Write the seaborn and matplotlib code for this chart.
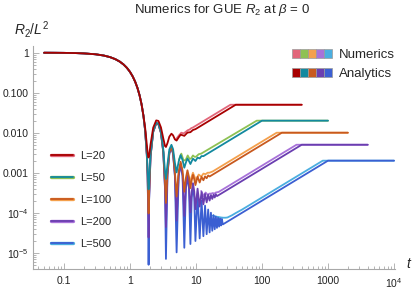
import numpy as np
import pandas as pd
import matplotlib
matplotlib.use("Agg")
import matplotlib.pyplot as plt
from matplotlib.lines import Line2D
from matplotlib.patches import Rectangle
from matplotlib.legend_handler import HandlerTuple
import seaborn as sns

# -------------------------
# Data
# -------------------------
L_values = ["L=20", "L=50", "L=100", "L=200", "L=500"]

# common early decay (all curves coincide)
t_head = [0.05, 0.07, 0.1, 0.15, 0.2, 0.3, 0.4, 0.5, 0.6, 0.7, 0.8, 0.9, 1.0,
          1.1, 1.2, 1.3, 1.4, 1.5, 1.6]
y_head = [0.9975, 0.995, 0.990, 0.978, 0.9604, 0.9133, 0.850, 0.7746, 0.6897,
          0.5993, 0.5075, 0.4175, 0.3326, 0.2555, 0.1879, 0.1312, 0.0856,
          0.0511, 0.0267]

# oscillation region, shared t positions
t_osc = [1.7, 1.8, 1.85, 1.9, 1.916, 1.95, 2.05, 2.25, 2.5, 2.7, 2.95, 3.2, 3.4,
         3.51, 3.7, 3.95, 4.25, 4.5, 4.8, 5.09, 5.47, 5.86, 6.27, 6.66, 7.04,
         7.43, 7.84, 8.24, 8.62, 9.01, 9.42, 9.81, 10.58, 11.38, 12.16, 12.95,
         13.73, 14.52, 15.3, 16.1, 16.85, 17.67, 18.45, 19.24, 20.0, 20.8, 21.6,
         22.4, 23.2, 23.95, 24.7, 25.5]

y_osc_20 = [1.32e-2, 5.07e-3, 3.16e-3, 2.42e-3, 2.40e-3, 2.63e-3,
            5.07e-3, 1.336e-2, 2.03e-2, 1.97e-2, 1.355e-2, 7.2e-3, 4.62e-3,
            4.39e-3, 5.48e-3, 7.96e-3, 9.44e-3, 8.6e-3, 6.79e-3, 6.36e-3,
            7.64e-3, 8.92e-3, 8.64e-3, 8.33e-3, 9.19e-3, 1.006e-2, 1.019e-2,
            1.03e-2, 1.1e-2, 1.17e-2, 1.2e-2, 1.226e-2]
y_osc_50 = [1.144e-2, 3.17e-3, 1.22e-3, 4.25e-4, 3.83e-4, 5.85e-4,
            2.92e-3, 1.1e-2, 1.767e-2, 1.69e-2, 1.045e-2, 3.84e-3, 1.05e-3,
            7.02e-4, 1.59e-3, 3.81e-3, 4.98e-3, 3.87e-3, 1.75e-3, 1.018e-3,
            1.89e-3, 2.76e-3, 2.05e-3, 1.332e-3, 1.8e-3, 2.26e-3, 1.96e-3,
            1.648e-3, 1.94e-3, 2.24e-3, 2.1e-3, 1.962e-3, 2.38e-3, 2.276e-3,
            2.61e-3, 2.59e-3]
y_osc_100 = [1.12e-2, 2.9e-3, 9.4e-4, 1.4e-4, 9.58e-5, 2.9e-4,
             2.61e-3, 1.066e-2, 1.73e-2, 1.65e-2, 1.0e-2, 3.36e-3, 5.4e-4,
             1.755e-4, 1.035e-3, 3.22e-3, 4.34e-3, 3.2e-3, 1.03e-3, 2.545e-4,
             1.07e-3, 1.88e-3, 1.11e-3, 3.33e-4, 7.4e-4, 1.15e-3, 7.8e-4,
             4.12e-4, 6.5e-4, 8.86e-4, 6.9e-4, 4.905e-4, 7.97e-4, 5.69e-4,
             7.85e-4, 6.475e-4, 8.1e-4, 7.26e-4, 8.54e-4, 8.05e-4]
y_osc_200 = [1.11e-2, 2.84e-3, 8.7e-4, 6.9e-5, 2.4e-5, 2.2e-4,
             2.54e-3, 1.058e-2, 1.72e-2, 1.64e-2, 9.9e-3, 3.24e-3, 4.13e-4,
             4.39e-5, 8.96e-4, 3.07e-3, 4.18e-3, 3.03e-3, 8.5e-4, 6.36e-5,
             8.68e-4, 1.66e-3, 8.78e-4, 8.33e-5, 4.78e-4, 8.68e-4, 4.88e-4,
             1.03e-4, 3.28e-4, 5.48e-4, 3.38e-4, 1.226e-4, 4.0e-4, 1.42e-4,
             3.29e-4, 1.62e-4, 2.95e-4, 1.815e-4, 2.8e-4, 2.01e-4, 2.76e-4,
             2.21e-4, 2.81e-4, 2.4e-4, 2.9e-4, 2.6e-4]
y_osc_500 = [1.11e-2, 2.83e-3, 8.5e-4, 4.9e-5, 5.0e-6, 1.99e-4,
             2.514e-3, 1.055e-2, 1.717e-2, 1.636e-2, 9.87e-3, 3.21e-3, 3.77e-4,
             7.0e-6, 8.57e-4, 3.03e-3, 4.14e-3, 2.98e-3, 8.0e-4, 1.02e-5,
             8.1e-4, 1.6e-3, 8.13e-4, 1.33e-5, 4.04e-4, 7.9e-4, 4.06e-4,
             1.65e-5, 2.37e-4, 4.53e-4, 2.39e-4, 1.96e-5, 2.89e-4, 2.28e-5,
             2.01e-4, 2.59e-5, 1.5e-4, 2.9e-5, 1.2e-4, 3.22e-5, 1.0e-4, 3.53e-5,
             8.7e-5, 3.85e-5, 8.0e-5, 4.16e-5, 7.5e-5, 4.48e-5, 7.1e-5, 4.79e-5,
             7.0e-5, 5.1e-5]

# ramp end / plateau (analytics)
plat_t_20, plat_y_20 = [40, 400], [0.05, 0.05]
plat_t_50, plat_y_50 = [100, 1000], [0.02, 0.02]
plat_t_100, plat_y_100 = [200, 2000], [0.01, 0.01]
plat_t_200, plat_y_200 = [400, 4000], [0.005, 0.005]
plat_t_500, plat_y_500 = [1000, 10000], [0.002, 0.002]

# numerics (visible where they separate from analytics)
num_t_20 = [5.0, 5.5, 6.0, 6.5, 7.0, 7.5, 8.0, 8.5, 9.0, 10, 33.3, 400]
num_y_20 = [6.9e-3, 8.5e-3, 1.0e-2, 9.6e-3, 1.05e-2, 1.15e-2, 1.2e-2, 1.3e-2,
            1.35e-2, 1.5e-2, 0.05, 0.05]
num_t_50 = [5.5, 6, 6.5, 7, 7.5, 8, 8.5, 9, 9.5, 10, 11, 12, 83.3, 1000]
num_y_50 = [2.1e-3, 3.0e-3, 2.0e-3, 2.1e-3, 2.7e-3, 2.2e-3, 2.3e-3, 2.7e-3,
            2.5e-3, 2.5e-3, 2.9e-3, 3.0e-3, 0.02, 0.02]
num_t_100 = [8, 9, 10, 11, 12, 13, 14, 15, 16, 18, 166.7, 2000]
num_y_100 = [5.5e-4, 1.0e-3, 6.5e-4, 9.0e-4, 8.0e-4, 9.5e-4, 9.2e-4, 1.0e-3,
             1.0e-3, 1.08e-3, 0.01, 0.01]
num_t_200 = [12, 13, 14, 15, 16, 17, 18, 19, 20, 22, 25, 333, 4000]
num_y_200 = [3.5e-4, 2.6e-4, 3.2e-4, 2.8e-4, 3.0e-4, 3.0e-4, 3.1e-4, 3.0e-4,
             3.2e-4, 3.3e-4, 3.75e-4, 0.005, 0.005]
num_t_500 = [18, 20, 22, 24, 26, 28, 30, 35, 40, 50, 833, 10000]
num_y_500 = [8.5e-5, 8.0e-5, 7.8e-5, 7.6e-5, 7.5e-5, 7.5e-5, 7.6e-5, 8.6e-5,
             9.8e-5, 1.2e-4, 0.002, 0.002]

analytic_colors = ["#A80000", "#13899F", "#C8591E", "#6A3EB0", "#3B5FD2"]
numeric_colors = ["#E2667A", "#8EC153", "#F4A04C", "#A872D9", "#4BAEE0"]

# -------------------------
# Build long-form tables
# -------------------------
osc = [y_osc_20, y_osc_50, y_osc_100, y_osc_200, y_osc_500]
plat_t = [plat_t_20, plat_t_50, plat_t_100, plat_t_200, plat_t_500]
plat_y = [plat_y_20, plat_y_50, plat_y_100, plat_y_200, plat_y_500]
num_t = [num_t_20, num_t_50, num_t_100, num_t_200, num_t_500]
num_y = [num_y_20, num_y_50, num_y_100, num_y_200, num_y_500]

frames = []
for lab, yo, pt, py in zip(L_values, osc, plat_t, plat_y):
    t = t_head + t_osc[:len(yo)] + pt
    y = y_head + yo + py
    frames.append(pd.DataFrame({"t": t, "y": y, "L": lab}))
df_an = pd.concat(frames, ignore_index=True)

frames = []
for lab, nt, ny in zip(L_values, num_t, num_y):
    frames.append(pd.DataFrame({"t": nt, "y": ny, "L": lab}))
df_num = pd.concat(frames, ignore_index=True)

# -------------------------
# Plot
# -------------------------
sns.set_style("ticks")
plt.rcParams['font.family'] = ['Liberation Sans', 'DejaVu Sans']
plt.rcParams['mathtext.fontset'] = 'custom'
plt.rcParams['mathtext.rm'] = 'Liberation Sans'
plt.rcParams['mathtext.it'] = 'Liberation Sans:italic'

fig = plt.figure(figsize=(4.15, 2.94), dpi=100)
ax = fig.add_axes([33 / 415, (294 - 269.3) / 294, (395 - 33) / 415, (269.3 - 46) / 294])

order = L_values[::-1]
sns.lineplot(data=df_num, x="t", y="y", hue="L", hue_order=order,
             palette=dict(zip(L_values, numeric_colors)), estimator=None,
             sort=False, lw=1.3, legend=False, ax=ax)
sns.lineplot(data=df_an, x="t", y="y", hue="L", hue_order=order,
             palette=dict(zip(L_values, analytic_colors)), estimator=None,
             sort=False, lw=1.3, legend=False, ax=ax)

ax.set_xscale("log")
ax.set_yscale("log")
ax.set_xlim(0.034, 1.035e4)
ax.set_ylim(3.85e-6, 1.47)
ax.set_xlabel("")
ax.set_ylabel("")

ax.set_xticks([0.1, 1, 10, 100, 1000, 1e4],
              ["0.1", "1", "10", "100", "1000", "$10^4$"])
ax.set_yticks([1, 0.1, 0.01, 0.001, 1e-4, 1e-5],
              ["1", "0.100", "0.010", "0.001", "$10^{-4}$", "$10^{-5}$"])
ax.xaxis.set_minor_formatter(matplotlib.ticker.NullFormatter())
ax.yaxis.set_minor_formatter(matplotlib.ticker.NullFormatter())
ax.tick_params(which="both", direction="in", color="#A8A8A8", labelsize=7.5,
               labelcolor="#222222", width=0.6)
ax.tick_params(which="major", length=4)
ax.tick_params(which="minor", length=2)
ax.tick_params(axis="x", which="major", pad=5)
ax.tick_params(axis="y", which="major", pad=3)
for side in ["top", "right"]:
    ax.spines[side].set_visible(False)
for side in ["left", "bottom"]:
    ax.spines[side].set_color("#A8A8A8")
    ax.spines[side].set_linewidth(0.8)

fig.text(222 / 415, 1 - 10 / 294, r"Numerics for GUE $R_2$ at $\beta$ = 0",
         ha="center", va="center", fontsize=9.5)
fig.text(14 / 415, 1 - 29 / 294, r"$R_2/L^2$", ha="left", va="center", fontsize=10)
fig.text(406 / 415, 1 - 264 / 294, r"$t$", ha="left", va="center", fontsize=10)

# L legend
l_handles = [(Line2D([], [], color=nc, lw=2.4), Line2D([], [], color=ac, lw=1.3))
             for nc, ac in zip(numeric_colors, analytic_colors)]
leg1 = ax.legend(l_handles, L_values, handler_map={tuple: HandlerTuple(ndivide=1)},
                 loc="upper left", bbox_to_anchor=(51 / 415, 1 - 151 / 294),
                 bbox_transform=fig.transFigure, frameon=False, fontsize=8,
                 borderpad=0, borderaxespad=0, handlelength=2.0,
                 handletextpad=0.6, labelspacing=1.08)
ax.add_artist(leg1)

# Numerics / Analytics legend
num_patch = tuple(Rectangle((0, 0), 1, 1, facecolor=c, edgecolor="#9A9A9A", lw=0.5)
                  for c in numeric_colors)
an_patch = tuple(Rectangle((0, 0), 1, 1, facecolor=c, edgecolor="#9A9A9A", lw=0.5)
                 for c in analytic_colors)
ax.legend([num_patch, an_patch], ["Numerics", "Analytics"],
          handler_map={tuple: HandlerTuple(ndivide=None, pad=0)},
          loc="upper left", bbox_to_anchor=(292 / 415, 1 - 49 / 294),
          bbox_transform=fig.transFigure, frameon=False, fontsize=9.5,
          borderpad=0, borderaxespad=0, handlelength=3.0, handleheight=0.65,
          handletextpad=0.55, labelspacing=0.55)

fig.savefig("out.png", dpi=100)
